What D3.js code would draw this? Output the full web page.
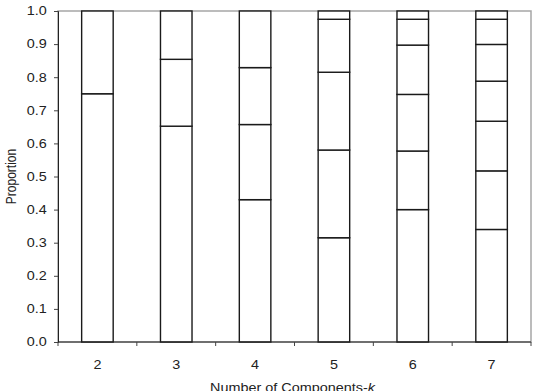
<!DOCTYPE html>
<html>
<head>
<meta charset="utf-8">
<script src="https://cdn.jsdelivr.net/npm/d3@7"></script>
<style>
  body { margin: 0; background: #fff; }
  text { font-family: "Liberation Sans", Arial, sans-serif; }
</style>
</head>
<body>
<div id="visualization"></div>
<script>
/*************************************/
/* Data                              */
/*************************************/

// Number of components k
const categories = ['2', '3', '4', '5', '6', '7'];

// Component proportions for each k (bottom to top)
const k2 = [0.75, 0.25];
const k3 = [0.652, 0.202, 0.146];
const k4 = [0.43, 0.227, 0.172, 0.171];
const k5 = [0.315, 0.265, 0.235, 0.16, 0.025];
const k6 = [0.40, 0.177, 0.171, 0.149, 0.078, 0.025];
const k7 = [0.34, 0.177, 0.15, 0.121, 0.111, 0.076, 0.025];

const yTicks = [0, 0.1, 0.2, 0.3, 0.4, 0.5, 0.6, 0.7, 0.8, 0.9, 1.0];


/*************************************/
/* Layout                            */
/*************************************/

const width = 537;
const height = 391;
const margin = { top: 11, right: 6, bottom: 49, left: 58 };

// Text in the reference is slightly wide; stretch horizontally
const sx = 1.2;
const fontSize = 12;

const series = [k2, k3, k4, k5, k6, k7];

// Flatten into stacked segments
const segments = [];
series.forEach((vals, i) => {
  let acc = 0;
  vals.forEach(v => {
    segments.push({ cat: categories[i], y0: acc, y1: acc + v });
    acc += v;
  });
});

const x = d3.scaleBand()
  .domain(categories)
  .range([margin.left, width - margin.right])
  .paddingInner(0.6)
  .paddingOuter(0.3);

const y = d3.scaleLinear()
  .domain([0, 1])
  .range([height - margin.bottom, margin.top]);

const svg = d3.select('#visualization')
  .append('svg')
  .attr('width', width)
  .attr('height', height);

// Plot area border (top/right grey)
svg.append('rect')
  .attr('x', margin.left)
  .attr('y', margin.top)
  .attr('width', width - margin.left - margin.right)
  .attr('height', height - margin.top - margin.bottom)
  .attr('fill', 'none')
  .attr('stroke', '#a6a6a6')
  .attr('stroke-width', 1.5);

// Segments
svg.append('g')
  .selectAll('rect')
  .data(segments)
  .join('rect')
    .attr('x', d => x(d.cat))
    .attr('y', d => y(d.y1))
    .attr('width', x.bandwidth())
    .attr('height', d => y(d.y0) - y(d.y1))
    .attr('fill', '#fff')
    .attr('stroke', '#1a1a1a')
    .attr('stroke-width', 1.4);

// Y axis
const yAxis = svg.append('g')
  .attr('transform', `translate(${margin.left},0)`)
  .call(d3.axisLeft(y).tickValues(yTicks).tickFormat(d3.format('.1f')).tickSize(4).tickPadding(5.4));
yAxis.select('.domain').attr('stroke', '#222');
yAxis.selectAll('.tick line').attr('stroke', '#444');
yAxis.selectAll('text')
  .attr('font-size', fontSize)
  .attr('fill', '#222')
  .attr('transform', `scale(${sx},1)`);

// X axis: ticks between categories
const xTickPos = d3.range(categories.length + 1).map(i => margin.left + i * (width - margin.left - margin.right) / categories.length);
const xAxis = svg.append('g')
  .attr('transform', `translate(0,${height - margin.bottom})`);
xAxis.append('line')
  .attr('x1', margin.left).attr('x2', width - margin.right)
  .attr('stroke', '#222');
xAxis.selectAll('.tk')
  .data(xTickPos)
  .join('line')
    .attr('x1', d => d).attr('x2', d => d)
    .attr('y1', 0).attr('y2', 4)
    .attr('stroke', '#444');
xAxis.selectAll('.lbl')
  .data(categories)
  .join('text')
    .attr('transform', d => `translate(${x(d) + x.bandwidth() / 2},27) scale(${sx},1)`)
    .attr('text-anchor', 'middle')
    .attr('font-size', fontSize)
    .attr('fill', '#222')
    .text(d => d);

// Axis titles
svg.append('text')
  .attr('transform', `translate(16,${(margin.top + height - margin.bottom) / 2}) scale(${sx},1) rotate(-90)`)
  .attr('text-anchor', 'middle')
  .attr('font-size', fontSize)
  .attr('fill', '#222')
  .text('Proportion');

const xt = svg.append('text')
  .attr('transform', `translate(${(margin.left + width - margin.right) / 2 - 2},392) scale(${sx},1)`)
  .attr('text-anchor', 'middle')
  .attr('font-size', fontSize)
  .attr('fill', '#222');
xt.append('tspan').text('Number of Components-');
xt.append('tspan').attr('font-style', 'italic').text('k');
</script>
</body>
</html>
